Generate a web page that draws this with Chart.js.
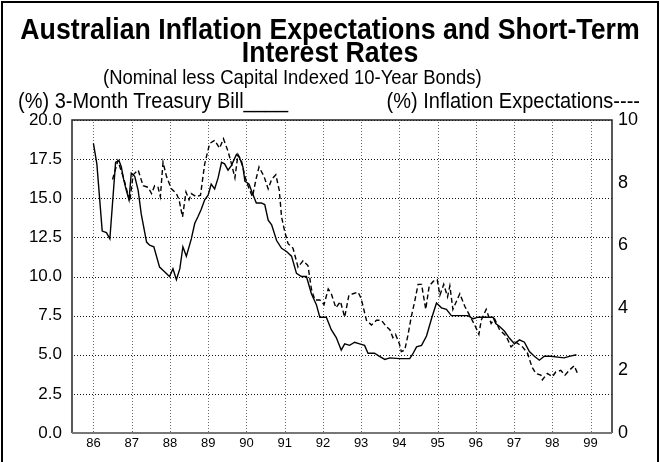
<!DOCTYPE html>
<html>
<head>
<meta charset="utf-8">
<script src="https://cdn.jsdelivr.net/npm/chart.js@4/dist/chart.umd.min.js"></script>
<style>
  body { margin: 0; background: #fff; font-family: "Liberation Sans", Arial, sans-serif; }
  #wrap { position: relative; width: 660px; height: 462px; overflow: hidden; }
  #frame { position: absolute; left: 1px; top: 1px; width: 654px; height: 480px; border: 2px solid #000; }
  .txt { position: absolute; white-space: nowrap; color: #000; transform: scaleY(1.1); transform-origin: center; }
  .title { left: 0; width: 660px; text-align: center; font-weight: bold; font-size: 26.7px; line-height: 27px; }
  canvas { position: absolute; left: 0; top: 0; }
</style>
</head>
<body>
<div id="wrap">
  <div id="frame"></div>
  <canvas id="myChart" width="660" height="462"></canvas>
  <div class="txt title" style="top:16px">Australian Inflation Expectations and Short-Term</div>
  <div class="txt title" style="top:39px">Interest Rates</div>
  <div class="txt" style="left:103px;top:67px;font-size:18.5px;line-height:19px">(Nominal less Capital Indexed 10-Year Bonds)</div>
  <div class="txt" style="left:18px;top:90px;font-size:20px;line-height:20px">(%) 3-Month Treasury Bill____</div>
  <div class="txt" style="right:20px;top:90px;font-size:20px;line-height:20px">(%) Inflation Expectations----</div>
</div>
<script>
// Años del eje X (etiquetas)
const years = [86, 87, 88, 89, 90, 91, 92, 93, 94, 95, 96, 97, 98, 99];

// Letra del Tesoro a 3 meses (eje izquierdo, %)
const billDates = [86.00, 86.09, 86.23, 86.34, 86.43, 86.58, 86.67, 86.73, 86.79, 86.86, 86.93, 86.99,
  87.08, 87.17, 87.25, 87.39, 87.47, 87.58, 87.73, 87.86, 87.99, 88.08, 88.17, 88.26, 88.34, 88.43,
  88.56, 88.65, 88.73, 88.82, 88.91, 89.00, 89.08, 89.17, 89.26, 89.35, 89.43, 89.52, 89.61, 89.74,
  89.82, 89.91, 89.96, 90.07, 90.16, 90.26, 90.39, 90.48, 90.57, 90.66, 90.79, 90.92, 91.05, 91.18,
  91.31, 91.44, 91.57, 91.70, 91.83, 91.92, 92.09, 92.22, 92.35, 92.48, 92.57, 92.70, 92.83, 92.96,
  93.09, 93.18, 93.35, 93.48, 93.62, 93.75, 94.00, 94.27, 94.34, 94.45, 94.58, 94.71, 94.84, 94.97,
  95.10, 95.23, 95.36, 95.58, 95.79, 95.93, 96.06, 96.27, 96.45, 96.52, 96.62, 96.75, 96.88, 97.01,
  97.14, 97.27, 97.40, 97.53, 97.66, 97.79, 97.96, 98.14, 98.31, 98.44, 98.63];
const billRates = [18.5, 17.2, 12.9, 12.8, 12.4, 17.3, 17.4, 17.0, 16.2, 15.5, 14.9, 16.6,
  16.4, 15.5, 14.0, 12.2, 12.0, 11.9, 10.6, 10.3, 10.0, 10.5, 9.8, 10.5, 11.9, 11.3,
  12.4, 13.4, 13.8, 14.3, 14.9, 15.2, 15.9, 15.6, 16.3, 17.3, 17.2, 16.8, 17.1, 17.8,
  17.6, 17.0, 16.1, 15.9, 15.3, 14.7, 14.7, 14.6, 13.6, 13.3, 12.3, 11.8, 11.6, 11.3,
  10.2, 10.0, 10.0, 8.9, 8.2, 7.4, 7.4, 6.6, 6.1, 5.3, 5.7, 5.6, 5.8, 5.7,
  5.6, 5.1, 5.1, 4.9, 4.7, 4.8, 4.75, 4.75, 5.0, 5.5, 5.6, 6.2, 7.3, 8.3,
  8.0, 7.9, 7.5, 7.5, 7.5, 7.3, 7.4, 7.4, 7.4, 7.0, 6.8, 6.5, 6.05, 5.7,
  5.95, 5.8, 5.2, 4.9, 4.65, 4.9, 4.9, 4.85, 4.8, 4.9, 5.0];

// Expectativas de inflación (eje derecho, %)
const inflDates = [86.50, 86.64, 86.80, 86.95, 87.04, 87.17, 87.30, 87.43, 87.52, 87.60, 87.69, 87.75,
  87.82, 87.91, 88.04, 88.17, 88.24, 88.33, 88.42, 88.50, 88.56, 88.69, 88.80, 88.91, 89.04, 89.17,
  89.30, 89.40, 89.52, 89.61, 89.70, 89.78, 89.87, 89.96, 90.07, 90.16, 90.25, 90.33, 90.46, 90.57,
  90.66, 90.77, 90.86, 90.92, 91.01, 91.09, 91.22, 91.35, 91.48, 91.61, 91.70, 91.79, 91.92, 92.03,
  92.14, 92.22, 92.34, 92.46, 92.57, 92.68, 92.79, 92.92, 93.00, 93.14, 93.27, 93.40, 93.53, 93.66,
  93.75, 93.83, 93.90, 94.00, 94.05, 94.14, 94.22, 94.31, 94.40, 94.49, 94.58, 94.69, 94.78, 94.89,
  94.99, 95.06, 95.16, 95.26, 95.32, 95.40, 95.58, 95.71, 95.84, 95.97, 96.08, 96.14, 96.27, 96.40,
  96.49, 96.62, 96.79, 96.92, 97.05, 97.22, 97.35, 97.47, 97.57, 97.70, 97.74, 97.87, 98.00, 98.09,
  98.22, 98.33, 98.44, 98.57, 98.66];
const inflExp = [8.1, 8.7, 8.1, 7.4, 8.25, 8.4, 7.9, 7.85, 7.65, 7.9, 7.85, 7.55,
  8.65, 8.2, 7.8, 7.65, 7.45, 6.9, 7.7, 7.45, 7.65, 7.55, 7.6, 8.6, 9.25, 9.35,
  9.1, 9.4, 9.0, 8.6, 8.15, 8.9, 8.7, 8.2, 7.8, 7.55, 8.1, 8.5, 8.2, 7.8,
  8.1, 8.25, 7.75, 6.9, 6.4, 6.05, 5.9, 5.3, 5.5, 5.35, 4.6, 4.25, 4.25, 4.1,
  4.6, 4.45, 4.0, 4.2, 3.7, 4.4, 4.45, 4.5, 4.3, 3.6, 3.45, 3.6, 3.6, 3.4,
  3.3, 3.05, 3.15, 2.85, 2.6, 2.65, 3.1, 3.7, 4.2, 4.75, 4.75, 3.95, 4.7, 4.85,
  4.9, 4.4, 4.75, 4.35, 4.7, 3.95, 4.45, 4.05, 3.75, 3.45, 3.15, 3.6, 3.95, 3.5,
  3.65, 3.3, 3.1, 2.75, 2.9, 2.75, 2.55, 2.1, 1.9, 1.85, 1.7, 1.9, 1.8, 1.95,
  2.0, 1.85, 2.0, 2.15, 1.9];

// Ticks de los ejes Y
const leftTicks = [0, 2.5, 5, 7.5, 10, 12.5, 15, 17.5, 20];
const rightTicks = [0, 2, 4, 6, 8, 10];

const ctx = document.getElementById('myChart').getContext('2d');

// Rejilla punteada (puntos de 1px a partir de los ticks de las escalas)
const dottedGrid = {
    id: 'dottedGrid',
    beforeDatasetsDraw(chart) {
        const a = chart.chartArea;
        const c = chart.ctx;
        const top = Math.round(a.top), bottom = Math.round(a.bottom);
        const left = Math.round(a.left), right = Math.round(a.right);
        c.save();
        // verticales (gris)
        c.fillStyle = '#666';
        chart.scales.x.ticks.forEach(t => {
            const px = Math.round(chart.scales.x.getPixelForValue(t.value));
            for (let y = top + 2; y < bottom; y += 3) c.fillRect(px, y, 1, 1);
        });
        // horizontales (negro)
        c.fillStyle = '#111';
        chart.scales.y.ticks.forEach(t => {
            const py = Math.round(chart.scales.y.getPixelForValue(t.value));
            for (let x = left + 2; x < right; x += 3) c.fillRect(x, py, 1, 1);
        });
        c.restore();
    }
};

// Marco del área del gráfico
const framePlugin = {
    id: 'frame',
    afterDraw(chart) {
        const a = chart.chartArea;
        const c = chart.ctx;
        c.save();
        c.strokeStyle = '#222';
        c.lineWidth = 1.5;
        c.beginPath();
        c.moveTo(a.left, a.bottom);
        c.lineTo(a.left, a.top);
        c.lineTo(a.right, a.top);
        c.lineTo(a.right, a.bottom);
        c.stroke();
        c.strokeStyle = '#777';
        c.lineWidth = 2;
        c.beginPath();
        c.moveTo(a.left, a.bottom);
        c.lineTo(a.right, a.bottom);
        c.stroke();
        c.restore();
    }
};

const config = {
    type: 'line',
    data: {
        datasets: [
            {
                label: '3-Month Treasury Bill',
                data: billDates.map((d, i) => ({ x: d, y: billRates[i] })),
                borderColor: '#000',
                borderWidth: 1.4,
                pointRadius: 0,
                tension: 0,
                yAxisID: 'y'
            },
            {
                label: 'Inflation Expectations',
                data: inflDates.map((d, i) => ({ x: d, y: inflExp[i] })),
                borderColor: '#000',
                borderWidth: 1.4,
                borderDash: [5, 3],
                pointRadius: 0,
                tension: 0,
                yAxisID: 'y2'
            }
        ]
    },
    options: {
        responsive: false,
        animation: false,
        layout: { padding: { top: 120, left: 0, right: 0, bottom: 0 } },
        plugins: {
            legend: { display: false },
            tooltip: { enabled: false }
        },
        scales: {
            x: {
                type: 'linear',
                min: 85.44,
                max: 99.56,
                afterBuildTicks: (s) => { s.ticks = years.map(v => ({ value: v })); },
                afterFit: (s) => { s.height = 29; },
                ticks: {
                    padding: 3,
                    maxRotation: 0,
                    autoSkip: false,
                    color: '#000',
                    font: { family: 'Liberation Sans', size: 13 },
                    callback: (v) => String(v)
                },
                grid: { display: false, drawTicks: false },
                border: { display: false }
            },
            y: {
                position: 'left',
                min: 0,
                max: 20,
                afterBuildTicks: (s) => { s.ticks = leftTicks.map(v => ({ value: v })); },
                afterFit: (s) => { s.width = 72; },
                ticks: {
                    padding: 10,
                    color: '#000',
                    font: { family: 'Liberation Sans', size: 17 },
                    callback: (v) => v.toFixed(1)
                },
                grid: { display: false, drawTicks: false },
                border: { display: false }
            },
            y2: {
                position: 'right',
                min: 0,
                max: 10,
                afterBuildTicks: (s) => { s.ticks = rightTicks.map(v => ({ value: v })); },
                afterFit: (s) => { s.width = 48; },
                ticks: {
                    padding: 6,
                    color: '#000',
                    font: { family: 'Liberation Sans', size: 18 },
                    callback: (v) => String(v)
                },
                grid: { display: false, drawTicks: false },
                border: { display: false }
            }
        }
    },
    plugins: [dottedGrid, framePlugin]
};

const myChart = new Chart(ctx, config);
</script>
</body>
</html>
